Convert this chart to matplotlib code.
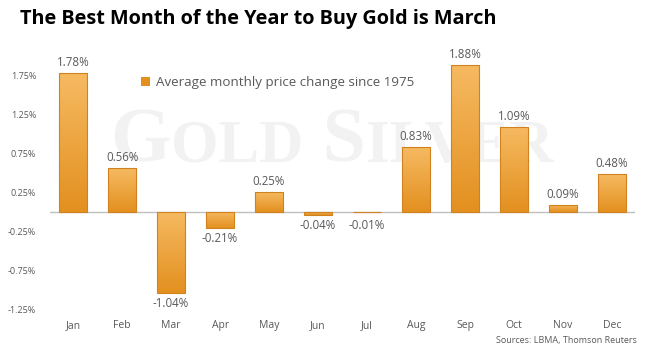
import numpy as np
import matplotlib.pyplot as plt
from matplotlib.colors import LinearSegmentedColormap
from matplotlib.offsetbox import TextArea, HPacker, AnchoredOffsetbox

months = ['Jan', 'Feb', 'Mar', 'Apr', 'May', 'Jun', 'Jul', 'Aug', 'Sep', 'Oct', 'Nov', 'Dec']
changes = [1.78, 0.56, -1.04, -0.21, 0.25, -0.04, -0.01, 0.83, 1.88, 1.09, 0.09, 0.48]
yticks = [1.75, 1.25, 0.75, 0.25, -0.25, -0.75, -1.25]

plt.rcParams['font.family'] = ['Open Sans', 'DejaVu Sans']
grey = '#595959'

fig = plt.figure(figsize=(6.5, 3.5), dpi=100, facecolor='white')
ax = fig.add_axes([0.077, 0.117, 0.9, 0.78])
ax.set_xlim(-0.47, 11.47)
ax.set_ylim(-1.25, 2.25)

# faint watermark, small caps style
wm = dict(color='#F2F2F2', family='Liberation Serif', weight='bold')
parts = [TextArea('G', textprops=dict(size=56, **wm)),
         TextArea('OLD', textprops=dict(size=44, **wm)),
         TextArea(' S', textprops=dict(size=56, **wm)),
         TextArea('ILVER', textprops=dict(size=44, **wm))]
pack = HPacker(children=parts, align='baseline', pad=0, sep=0)
wbox = AnchoredOffsetbox(loc='center', child=pack, frameon=False,
                         bbox_to_anchor=(0.51, 0.59), bbox_transform=fig.transFigure)
wbox.set_zorder(0)
ax.add_artist(wbox)

cmap = LinearSegmentedColormap.from_list('gold', ['#E3901F', '#F6BA62'])
grad = np.linspace(0, 1, 256).reshape(-1, 1)
w = 0.58
bars = ax.bar(range(len(months)), changes, width=w, color='none', edgecolor='#D0821F', linewidth=0.8, zorder=3)
for b, v in zip(bars, changes):
    x0 = b.get_x()
    lo, hi = min(0, v), max(0, v)
    im = ax.imshow(grad, cmap=cmap, aspect='auto', origin='lower',
                   extent=(x0, x0 + w, lo, hi), zorder=2)
    im.set_clip_path(b)

for i, v in enumerate(changes):
    if v >= 0:
        ax.text(i, v + 0.05, f'{v:.2f}%', ha='center', va='bottom', fontsize=8.3, color=grey, zorder=4)
    else:
        ax.text(i, min(v, -0.05) - 0.05, f'{v:.2f}%', ha='center', va='top', fontsize=8.3, color=grey, zorder=4)

ax.axhline(0, color='#BFBFBF', linewidth=1, zorder=1)

ax.set_yticks(yticks)
ax.set_yticklabels([f'{t:.2f}%' for t in yticks], fontsize=6.5, color=grey)
ax.set_xticks(range(len(months)))
ax.set_xticklabels(months, fontsize=7.5, color=grey)
ax.tick_params(axis='x', length=0, pad=8)
ax.tick_params(axis='y', length=0, pad=10)
for s in ax.spines.values():
    s.set_visible(False)

ax.bar([0], [0], color='#E3901F', label='Average monthly price change since 1975')
ax.legend(loc='center left', bbox_to_anchor=(0.135, 0.83), frameon=False, fontsize=9.6,
          labelcolor=grey, handlelength=0.7, handleheight=0.7, handletextpad=0.4)

fig.text(0.03, 0.945, 'The Best Month of the Year to Buy Gold is March', fontsize=14.3,
         fontweight='bold', color='black', va='center')
fig.text(0.98, 0.028, 'Sources: LBMA, Thomson Reuters', fontsize=6.5, color=grey, ha='right', va='center')

fig.savefig('out.png', dpi=100)
